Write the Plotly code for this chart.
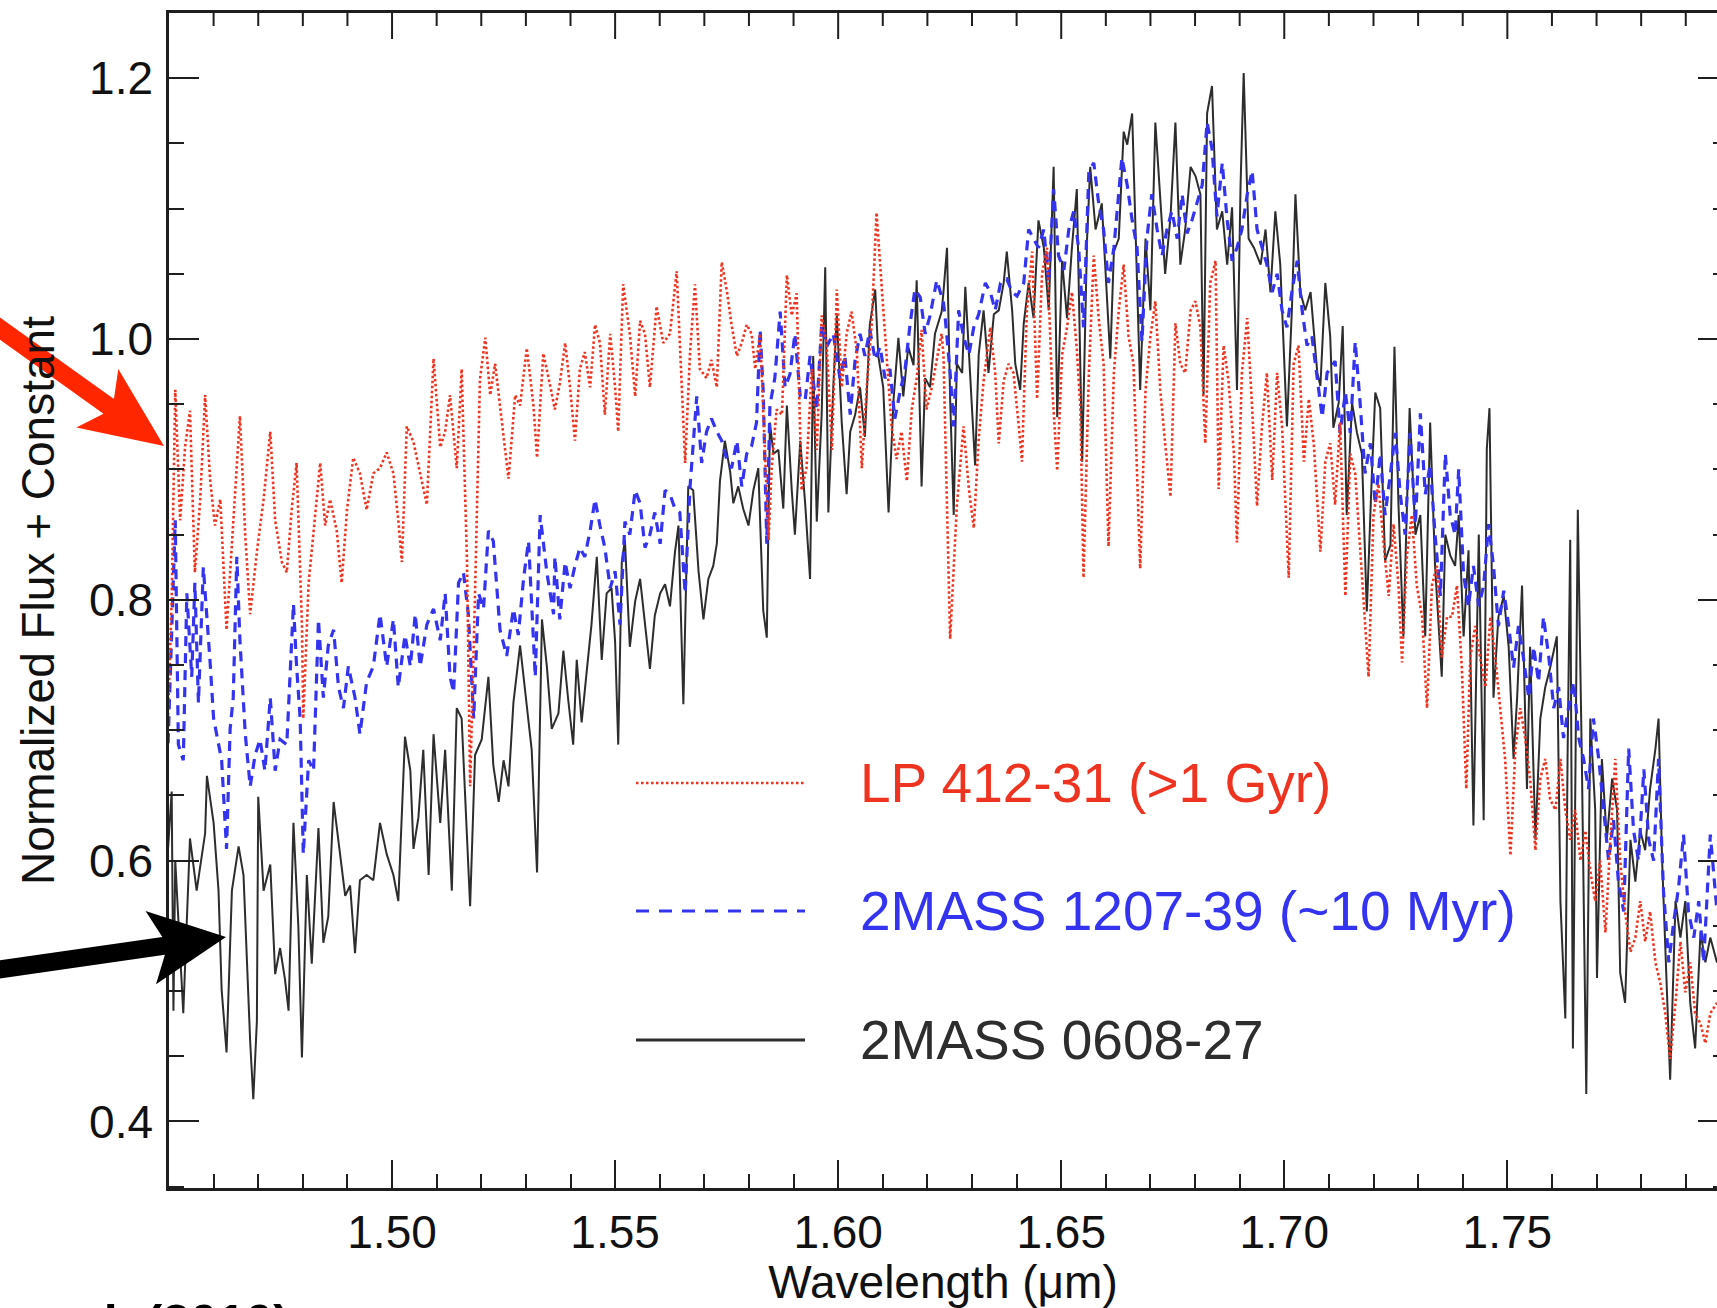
import plotly.graph_objects as go

# ---------------- data ----------------
black_wave = [
    1.4498, 1.4506, 1.4510, 1.4514, 1.4532, 1.4547, 1.4562, 1.4581, 1.4585, 1.4600,
    1.4611, 1.4618, 1.4629, 1.4641, 1.4656, 1.4667, 1.4682, 1.4689, 1.4697, 1.4700,
    1.4712, 1.4727, 1.4738, 1.4749, 1.4760, 1.4768, 1.4779, 1.4790, 1.4798, 1.4809,
    1.4820, 1.4835, 1.4846, 1.4857, 1.4869, 1.4884, 1.4895, 1.4906, 1.4917, 1.4928,
    1.4943, 1.4958, 1.4973, 1.4988, 1.5003, 1.5014, 1.5029, 1.5041, 1.5048, 1.5059,
    1.5070, 1.5082, 1.5093, 1.5108, 1.5119, 1.5134, 1.5145, 1.5156, 1.5175, 1.5186,
    1.5201, 1.5216, 1.5227, 1.5239, 1.5250, 1.5261, 1.5272, 1.5287, 1.5302, 1.5313,
    1.5325, 1.5336, 1.5347, 1.5358,
    1.5373, 1.5384, 1.5395, 1.5406, 1.5414, 1.5425, 1.5436, 1.5447, 1.5459, 1.5470,
    1.5481, 1.5492, 1.5500, 1.5507, 1.5515, 1.5522, 1.5533, 1.5545, 1.5556, 1.5567,
    1.5578, 1.5589, 1.5601, 1.5612, 1.5623, 1.5634, 1.5642, 1.5653, 1.5664, 1.5675,
    1.5687, 1.5698, 1.5709, 1.5720, 1.5728, 1.5735, 1.5746, 1.5758, 1.5765, 1.5776,
    1.5787, 1.5799, 1.5810, 1.5821, 1.5832, 1.5840, 1.5847, 1.5855, 1.5866, 1.5877,
    1.5885, 1.5896, 1.5903, 1.5915, 1.5926, 1.5937, 1.5944, 1.5952, 1.5963, 1.5971,
    1.5978, 1.5989, 1.5997, 1.6008, 1.6019, 1.6027, 1.6038, 1.6049, 1.6060, 1.6071,
    1.6083, 1.6090, 1.6101, 1.6113, 1.6124, 1.6135, 1.6146, 1.6157, 1.6169, 1.6176,
    1.6187, 1.6195, 1.6206, 1.6217, 1.6232,
    1.6236, 1.6244, 1.6251, 1.6259, 1.6266, 1.6278, 1.6285, 1.6296, 1.6307, 1.6315,
    1.6326, 1.6337, 1.6349, 1.6360, 1.6371, 1.6378, 1.6390, 1.6397, 1.6408, 1.6416,
    1.6427, 1.6438, 1.6449, 1.6461, 1.6472, 1.6483, 1.6491, 1.6502, 1.6513, 1.6524,
    1.6535, 1.6547, 1.6558, 1.6565, 1.6577, 1.6591, 1.6603, 1.6610, 1.6618, 1.6629,
    1.6640, 1.6648, 1.6659, 1.6670, 1.6677, 1.6689, 1.6700, 1.6711, 1.6722, 1.6733,
    1.6745, 1.6756, 1.6767, 1.6778, 1.6790, 1.6801, 1.6812, 1.6819, 1.6827, 1.6838,
    1.6849, 1.6861, 1.6872, 1.6883, 1.6894, 1.6902, 1.6909, 1.6920, 1.6932, 1.6947,
    1.6958, 1.6969, 1.6980, 1.6991, 1.7006, 1.7017, 1.7025, 1.7036, 1.7047, 1.7059,
    1.7074, 1.7081, 1.7092, 1.7103,
    1.7110, 1.7122, 1.7131, 1.7140, 1.7152, 1.7163, 1.7174, 1.7185, 1.7196, 1.7204,
    1.7215, 1.7226, 1.7238, 1.7247, 1.7256, 1.7267, 1.7281, 1.7294, 1.7305, 1.7316,
    1.7327, 1.7338, 1.7353, 1.7361, 1.7372, 1.7383, 1.7391, 1.7402, 1.7413, 1.7424,
    1.7436, 1.7447, 1.7454, 1.7460, 1.7469, 1.7480, 1.7492, 1.7503, 1.7514, 1.7522,
    1.7533, 1.7544, 1.7551, 1.7563, 1.7574, 1.7585, 1.7596, 1.7611, 1.7619, 1.7630,
    1.7635, 1.7641, 1.7647, 1.7658, 1.7667, 1.7677, 1.7686, 1.7697, 1.7701, 1.7712,
    1.7723, 1.7735, 1.7746, 1.7753, 1.7764, 1.7776, 1.7787, 1.7798, 1.7809, 1.7820,
    1.7832, 1.7839, 1.7847, 1.7858, 1.7865, 1.7877, 1.7888, 1.7899, 1.7910, 1.7921,
    1.7933, 1.7944, 1.7955, 1.7970,
]
black_flux = [
    0.610, 0.653, 0.485, 0.600, 0.483, 0.617, 0.577, 0.621, 0.665, 0.629,
    0.577, 0.501, 0.453, 0.577, 0.611, 0.589, 0.461, 0.417, 0.477, 0.649,
    0.577, 0.597, 0.513, 0.533, 0.509, 0.485, 0.629, 0.549, 0.449, 0.589,
    0.521, 0.625, 0.537, 0.557, 0.645, 0.601, 0.573, 0.581, 0.529, 0.585,
    0.589, 0.585, 0.629, 0.605, 0.589, 0.569, 0.695, 0.669, 0.609, 0.633,
    0.685, 0.589, 0.697, 0.629, 0.685, 0.577, 0.717, 0.709, 0.565, 0.681,
    0.693, 0.741, 0.673, 0.645, 0.677, 0.657, 0.721, 0.765, 0.721, 0.685,
    0.591, 0.785, 0.749, 0.701,
    0.713, 0.761, 0.723, 0.689, 0.754, 0.706, 0.744, 0.781, 0.833, 0.754,
    0.805, 0.809, 0.768, 0.689, 0.829, 0.846, 0.764, 0.799, 0.816, 0.781,
    0.747, 0.788, 0.805, 0.812, 0.795, 0.836, 0.857, 0.720, 0.887, 0.884,
    0.822, 0.785, 0.816, 0.826, 0.843, 0.891, 0.922, 0.898, 0.874, 0.887,
    0.870, 0.857, 0.884, 0.901, 0.792, 0.771, 0.936, 0.912, 0.915, 0.870,
    0.949, 0.884, 0.850, 0.922, 0.874, 0.816, 0.987, 0.860, 0.942, 1.055,
    0.867, 0.963, 1.018, 0.936, 0.881, 0.929, 0.942, 0.963, 0.925, 1.011,
    1.038, 0.987, 0.963, 0.867, 0.953, 1.001, 0.956, 0.994, 0.980, 1.045,
    0.887, 0.970, 0.963, 1.004, 1.021,
    1.036, 1.070, 0.954, 0.865, 0.981, 0.974, 1.040, 0.968, 0.903, 0.988,
    1.022, 0.974, 1.019, 1.022, 1.043, 1.067, 1.022, 0.981, 0.961, 1.012,
    1.043, 1.016, 1.091, 1.070, 1.022, 1.132, 0.940, 1.060, 1.016, 1.070,
    1.115, 0.906, 1.077, 1.132, 1.084, 1.104, 1.022, 0.985, 1.067, 1.077,
    1.159, 1.149, 1.173, 1.050, 0.961, 1.077, 1.022, 1.166, 1.111, 1.050,
    1.094, 1.166, 1.057, 1.084, 1.132, 1.125, 1.111, 0.957, 1.173, 1.194,
    1.084, 1.098, 1.057, 1.101, 0.961, 1.118, 1.204, 1.077, 1.070, 1.057,
    1.084, 1.036, 1.098, 1.057, 0.933, 1.022, 1.111, 1.036, 1.022, 1.036,
    0.974, 0.964, 1.043, 1.002,
    0.932, 0.951, 1.010, 0.865, 0.951, 0.928, 0.912, 0.791, 0.893, 0.959,
    0.947, 0.830, 0.842, 0.994, 0.873, 0.772, 0.947, 0.850, 0.865, 0.772,
    0.936, 0.826, 0.741, 0.850, 0.834, 0.826, 0.865, 0.772, 0.838, 0.627,
    0.850, 0.631, 0.916, 0.947, 0.725, 0.787, 0.803, 0.764, 0.678, 0.725,
    0.811, 0.655, 0.764, 0.616, 0.709, 0.733, 0.748, 0.772, 0.569, 0.479,
    0.678, 0.846, 0.456, 0.869, 0.678, 0.421, 0.709, 0.639, 0.510, 0.678,
    0.616, 0.663, 0.639, 0.514, 0.491, 0.616, 0.584, 0.623, 0.608, 0.655,
    0.686, 0.709, 0.600, 0.491, 0.432, 0.569, 0.541, 0.569, 0.491, 0.456,
    0.545, 0.522, 0.541, 0.522,
]

blue_wave = [
    1.4498, 1.4514, 1.4521, 1.4532, 1.4540, 1.4551, 1.4558, 1.4566, 1.4577, 1.4585,
    1.4592, 1.4600, 1.4607, 1.4618, 1.4629, 1.4637, 1.4644, 1.4652, 1.4659, 1.4671,
    1.4682, 1.4693, 1.4704, 1.4715, 1.4727, 1.4738, 1.4749, 1.4764, 1.4779, 1.4786,
    1.4794, 1.4801, 1.4813, 1.4824, 1.4835, 1.4846, 1.4857, 1.4869, 1.4880, 1.4891,
    1.4902, 1.4917, 1.4928, 1.4943, 1.4958, 1.4973, 1.4988, 1.5003, 1.5014, 1.5029,
    1.5041, 1.5052, 1.5063, 1.5078, 1.5093, 1.5108, 1.5119, 1.5130, 1.5138, 1.5149,
    1.5160, 1.5171, 1.5183, 1.5194, 1.5205, 1.5216, 1.5227, 1.5242, 1.5257, 1.5272,
    1.5283, 1.5295, 1.5306, 1.5321, 1.5332, 1.5347, 1.5362,
    1.5365, 1.5376, 1.5388, 1.5399, 1.5410, 1.5421, 1.5432, 1.5444, 1.5455, 1.5466,
    1.5477, 1.5489, 1.5500, 1.5511, 1.5522, 1.5533, 1.5545, 1.5556, 1.5567, 1.5578,
    1.5589, 1.5601, 1.5612, 1.5623, 1.5634, 1.5645, 1.5657, 1.5668, 1.5675, 1.5683,
    1.5694, 1.5705, 1.5716, 1.5728, 1.5739, 1.5750, 1.5761, 1.5773, 1.5784, 1.5795,
    1.5806, 1.5817, 1.5825, 1.5832, 1.5840, 1.5847, 1.5858, 1.5870, 1.5881, 1.5892,
    1.5903, 1.5915, 1.5926, 1.5937, 1.5952, 1.5963, 1.5974, 1.5989, 1.6004, 1.6015,
    1.6027, 1.6038, 1.6049, 1.6060, 1.6071, 1.6083, 1.6094, 1.6105, 1.6116, 1.6127,
    1.6139, 1.6150, 1.6161, 1.6172, 1.6184, 1.6195, 1.6206, 1.6221, 1.6236,
    1.6240, 1.6251, 1.6259, 1.6270, 1.6281, 1.6293, 1.6304, 1.6315, 1.6330, 1.6341,
    1.6352, 1.6364, 1.6378, 1.6390, 1.6401, 1.6416, 1.6427, 1.6438, 1.6449, 1.6461,
    1.6472, 1.6483, 1.6494, 1.6506, 1.6517, 1.6528, 1.6539, 1.6550, 1.6562, 1.6573,
    1.6584, 1.6595, 1.6606, 1.6618, 1.6629, 1.6636, 1.6648, 1.6659, 1.6670, 1.6681,
    1.6692, 1.6703, 1.6715, 1.6726, 1.6737, 1.6748, 1.6760, 1.6771, 1.6782, 1.6793,
    1.6804, 1.6816, 1.6827, 1.6838, 1.6849, 1.6861, 1.6872, 1.6883, 1.6894, 1.6905,
    1.6917, 1.6928, 1.6939, 1.6950, 1.6961, 1.6973, 1.6984, 1.6995, 1.7006, 1.7017,
    1.7029, 1.7040, 1.7051, 1.7062, 1.7074, 1.7085, 1.7096,
    1.7114, 1.7125, 1.7137, 1.7148, 1.7159, 1.7170, 1.7181, 1.7193, 1.7204, 1.7215,
    1.7226, 1.7238, 1.7249, 1.7260, 1.7271, 1.7282, 1.7294, 1.7305, 1.7316, 1.7327,
    1.7338, 1.7350, 1.7361, 1.7372, 1.7383, 1.7391, 1.7402, 1.7413, 1.7424, 1.7436,
    1.7447, 1.7458, 1.7469, 1.7480, 1.7492, 1.7503, 1.7514, 1.7525, 1.7536, 1.7548,
    1.7559, 1.7570, 1.7581, 1.7593, 1.7604, 1.7615, 1.7626, 1.7637, 1.7649, 1.7660,
    1.7671, 1.7682, 1.7693, 1.7705, 1.7716, 1.7727, 1.7738, 1.7749, 1.7761, 1.7772,
    1.7783, 1.7794, 1.7806, 1.7817, 1.7828, 1.7839, 1.7850, 1.7862, 1.7873, 1.7884,
    1.7895, 1.7906, 1.7918, 1.7929, 1.7940, 1.7955, 1.7970,
]
blue_flux = [
    0.690, 0.861, 0.689, 0.677, 0.805, 0.741, 0.813, 0.721, 0.825, 0.789,
    0.753, 0.709, 0.697, 0.677, 0.609, 0.701, 0.725, 0.833, 0.769, 0.697,
    0.657, 0.681, 0.693, 0.669, 0.725, 0.669, 0.693, 0.689, 0.797, 0.749,
    0.709, 0.605, 0.677, 0.669, 0.785, 0.725, 0.765, 0.777, 0.733, 0.717,
    0.749, 0.725, 0.697, 0.737, 0.749, 0.789, 0.749, 0.785, 0.733, 0.773,
    0.749, 0.789, 0.749, 0.781, 0.793, 0.769, 0.805, 0.741, 0.729, 0.813,
    0.821, 0.789, 0.709, 0.805, 0.793, 0.853, 0.845, 0.777, 0.757, 0.793,
    0.773, 0.817, 0.845, 0.741, 0.865, 0.821, 0.789,
    0.833, 0.785, 0.829, 0.809, 0.826, 0.840, 0.833, 0.853, 0.877, 0.857,
    0.840, 0.809, 0.822, 0.781, 0.860, 0.850, 0.884, 0.874, 0.840, 0.850,
    0.867, 0.843, 0.884, 0.881, 0.870, 0.867, 0.805, 0.887, 0.922, 0.956,
    0.905, 0.929, 0.939, 0.929, 0.922, 0.908, 0.901, 0.922, 0.887, 0.912,
    0.918, 0.936, 1.007, 0.960, 0.843, 0.949, 0.970, 1.021, 0.963, 0.973,
    1.004, 0.956, 0.953, 0.987, 0.946, 1.011, 0.994, 1.004, 0.970, 0.987,
    0.942, 0.984, 1.004, 0.987, 1.007, 0.984, 0.994, 0.970, 0.977, 0.939,
    0.960, 0.977, 1.011, 1.038, 1.032, 1.004, 1.018, 1.045, 1.028,
    1.016, 0.974, 0.933, 1.022, 1.002, 0.988, 1.009, 1.019, 1.043, 1.036,
    1.022, 1.043, 1.046, 1.036, 1.033, 1.043, 1.084, 1.077, 1.070, 1.084,
    1.043, 1.115, 1.064, 1.053, 1.084, 1.098, 1.070, 1.009, 1.129, 1.135,
    1.104, 1.084, 1.043, 1.070, 1.111, 1.139, 1.118, 1.091, 1.070, 0.998,
    1.077, 1.111, 1.084, 1.064, 1.084, 1.098, 1.077, 1.111, 1.081, 1.091,
    1.104, 1.118, 1.166, 1.146, 1.094, 1.135, 1.091, 1.060, 1.070, 1.084,
    1.111, 1.129, 1.084, 1.070, 1.057, 1.036, 1.050, 1.022, 1.009, 1.036,
    1.060, 1.022, 0.995, 1.002, 0.968, 0.940, 0.974,
    0.983, 0.928, 0.959, 0.928, 0.998, 0.951, 0.897, 0.920, 0.873, 0.912,
    0.865, 0.897, 0.928, 0.881, 0.850, 0.928, 0.858, 0.943, 0.881, 0.904,
    0.850, 0.803, 0.912, 0.865, 0.850, 0.900, 0.819, 0.795, 0.826, 0.795,
    0.811, 0.858, 0.826, 0.780, 0.807, 0.780, 0.748, 0.780, 0.756, 0.725,
    0.764, 0.737, 0.787, 0.756, 0.717, 0.733, 0.694, 0.717, 0.737, 0.694,
    0.678, 0.655, 0.709, 0.678, 0.639, 0.600, 0.631, 0.584, 0.561, 0.686,
    0.623, 0.600, 0.670, 0.616, 0.600, 0.678, 0.577, 0.522, 0.553, 0.580,
    0.620, 0.561, 0.541, 0.569, 0.522, 0.620, 0.561,
]

red_wave = [
    1.4497, 1.4506, 1.4514, 1.4525, 1.4536, 1.4547, 1.4558, 1.4570, 1.4581, 1.4592,
    1.4603, 1.4615, 1.4629, 1.4644, 1.4659, 1.4671, 1.4682, 1.4697, 1.4712, 1.4727,
    1.4738, 1.4753, 1.4764, 1.4775, 1.4786, 1.4798, 1.4801, 1.4813, 1.4824, 1.4839,
    1.4850, 1.4861, 1.4876, 1.4887, 1.4899, 1.4913, 1.4928, 1.4943, 1.4958, 1.4973,
    1.4988, 1.5003, 1.5014, 1.5022, 1.5033, 1.5048, 1.5063, 1.5078, 1.5093, 1.5108,
    1.5119, 1.5130, 1.5145, 1.5156, 1.5168, 1.5175, 1.5186, 1.5197, 1.5209, 1.5220,
    1.5231, 1.5246, 1.5261, 1.5276, 1.5287, 1.5302, 1.5317, 1.5325, 1.5339, 1.5354,
    1.5365, 1.5376, 1.5388, 1.5399, 1.5410, 1.5421, 1.5432, 1.5444, 1.5455, 1.5466,
    1.5477, 1.5489, 1.5500, 1.5507, 1.5518, 1.5533, 1.5545, 1.5556, 1.5567, 1.5578,
    1.5593, 1.5608, 1.5623, 1.5638, 1.5649, 1.5657, 1.5668, 1.5679, 1.5690, 1.5705,
    1.5716, 1.5728, 1.5739, 1.5750, 1.5761, 1.5773, 1.5784, 1.5795, 1.5806, 1.5814,
    1.5825, 1.5836, 1.5844, 1.5851, 1.5862, 1.5874, 1.5885, 1.5896, 1.5907, 1.5918,
    1.5929, 1.5941, 1.5952, 1.5963, 1.5974, 1.5986, 1.5997, 1.6008, 1.6019, 1.6030,
    1.6042, 1.6053, 1.6064, 1.6075, 1.6086, 1.6098, 1.6109, 1.6120, 1.6131, 1.6142,
    1.6154, 1.6165, 1.6176, 1.6187, 1.6198, 1.6210, 1.6221, 1.6232,
    1.6236, 1.6251, 1.6266, 1.6281, 1.6293, 1.6304, 1.6315, 1.6326, 1.6341, 1.6352,
    1.6360, 1.6371, 1.6382, 1.6393, 1.6405, 1.6412, 1.6423, 1.6435, 1.6446, 1.6457,
    1.6468, 1.6479, 1.6491, 1.6502, 1.6513, 1.6524, 1.6535, 1.6543, 1.6550, 1.6562,
    1.6573, 1.6584, 1.6595, 1.6606, 1.6618, 1.6629, 1.6640, 1.6651, 1.6662, 1.6677,
    1.6689, 1.6700, 1.6711, 1.6722, 1.6733, 1.6745, 1.6756, 1.6767, 1.6778, 1.6790,
    1.6801, 1.6812, 1.6823, 1.6834, 1.6846, 1.6853, 1.6864, 1.6875, 1.6887, 1.6894,
    1.6905, 1.6917, 1.6928, 1.6939, 1.6950, 1.6961, 1.6973, 1.6984, 1.6995, 1.7010,
    1.7021, 1.7032, 1.7044, 1.7055, 1.7066, 1.7081, 1.7092, 1.7103,
    1.7114, 1.7125, 1.7137, 1.7148, 1.7159, 1.7170, 1.7181, 1.7189, 1.7200, 1.7211,
    1.7223, 1.7234, 1.7245, 1.7256, 1.7264, 1.7275, 1.7286, 1.7297, 1.7309, 1.7320,
    1.7331, 1.7342, 1.7353, 1.7365, 1.7376, 1.7387, 1.7398, 1.7408, 1.7417, 1.7428,
    1.7439, 1.7451, 1.7462, 1.7473, 1.7484, 1.7495, 1.7507, 1.7518, 1.7529, 1.7540,
    1.7551, 1.7563, 1.7574, 1.7585, 1.7596, 1.7608, 1.7619, 1.7630, 1.7641, 1.7652,
    1.7664, 1.7675, 1.7686, 1.7697, 1.7708, 1.7720, 1.7731, 1.7742, 1.7753, 1.7764,
    1.7776, 1.7787, 1.7798, 1.7809, 1.7820, 1.7832, 1.7843, 1.7854, 1.7865, 1.7877,
    1.7888, 1.7899, 1.7910, 1.7921, 1.7933, 1.7944, 1.7955, 1.7970,
]
red_flux = [
    0.700, 0.800, 0.961, 0.861, 0.917, 0.945, 0.821, 0.877, 0.957, 0.893,
    0.857, 0.877, 0.777, 0.861, 0.941, 0.849, 0.789, 0.837, 0.877, 0.929,
    0.861, 0.829, 0.821, 0.869, 0.905, 0.781, 0.709, 0.813, 0.853, 0.905,
    0.857, 0.877, 0.853, 0.813, 0.869, 0.909, 0.897, 0.869, 0.897, 0.901,
    0.913, 0.897, 0.861, 0.829, 0.933, 0.921, 0.897, 0.873, 0.985, 0.917,
    0.929, 0.957, 0.901, 0.977, 0.829, 0.657, 0.805, 0.969, 1.001, 0.957,
    0.981, 0.937, 0.893, 0.957, 0.949, 0.993, 0.949, 0.909, 0.989, 0.965,
    0.946, 0.966, 0.997, 0.963, 0.922, 0.977, 0.990, 0.963, 1.011, 0.997,
    0.942, 1.004, 0.963, 0.929, 1.042, 1.004, 0.956, 1.014, 1.004, 0.963,
    1.025, 0.997, 1.004, 1.052, 0.963, 0.905, 0.990, 1.042, 0.977, 0.970,
    0.984, 0.963, 1.059, 1.038, 1.011, 0.987, 0.997, 1.011, 1.004, 0.977,
    1.004, 0.915, 0.846, 0.901, 0.946, 0.942, 1.049, 1.018, 1.035, 0.884,
    0.901, 0.977, 0.915, 1.018, 0.997, 0.915, 1.038, 0.963, 1.004, 1.021,
    0.990, 0.901, 0.963, 1.011, 1.097, 1.038, 0.987, 0.932, 0.908, 0.929,
    0.891, 0.946, 0.970, 1.007, 0.946, 0.963, 0.984, 1.004,
    0.988, 0.770, 0.872, 0.933, 0.885, 0.855, 0.923, 0.968, 1.009, 0.974,
    0.920, 0.968, 0.981, 0.974, 0.933, 0.906, 1.022, 1.067, 0.954, 1.050,
    1.070, 0.968, 0.899, 0.988, 1.009, 1.036, 0.992, 0.947, 0.817, 0.974,
    1.064, 1.016, 0.981, 0.841, 0.974, 1.022, 1.057, 1.002, 0.981, 0.824,
    0.961, 1.002, 1.029, 0.961, 0.920, 0.879, 1.012, 0.981, 0.974, 1.022,
    1.029, 1.009, 0.920, 1.043, 1.060, 0.885, 0.995, 0.968, 0.913, 0.844,
    0.974, 1.016, 0.947, 0.872, 0.933, 0.974, 0.892, 0.974, 0.933, 0.817,
    0.981, 0.995, 0.906, 0.954, 0.920, 0.837, 0.906, 0.920,
    0.873, 0.936, 0.803, 0.912, 0.897, 0.842, 0.787, 0.741, 0.865, 0.889,
    0.842, 0.803, 0.858, 0.811, 0.752, 0.834, 0.865, 0.811, 0.787, 0.717,
    0.811, 0.826, 0.756, 0.787, 0.787, 0.811, 0.748, 0.655, 0.756, 0.780,
    0.756, 0.733, 0.787, 0.756, 0.717, 0.678, 0.604, 0.686, 0.717, 0.694,
    0.663, 0.608, 0.663, 0.678, 0.647, 0.639, 0.678, 0.639, 0.616, 0.639,
    0.600, 0.623, 0.592, 0.569, 0.600, 0.545, 0.616, 0.678, 0.600, 0.561,
    0.530, 0.541, 0.569, 0.538, 0.561, 0.522, 0.506, 0.483, 0.448, 0.491,
    0.538, 0.499, 0.522, 0.483, 0.475, 0.460, 0.483, 0.491,
]

series_names = ["LP 412-31 (>1 Gyr)", "2MASS 1207-39 (~10 Myr)", "2MASS 0608-27"]
x_tick_vals = [1.50, 1.55, 1.60, 1.65, 1.70, 1.75]
x_tick_text = ["1.50", "1.55", "1.60", "1.65", "1.70", "1.75"]
y_tick_vals = [0.4, 0.6, 0.8, 1.0, 1.2]
y_tick_text = ["0.4", "0.6", "0.8", "1.0", "1.2"]

# ---------------- styling ----------------
FONT = "Liberation Sans, Arial, Helvetica, sans-serif"
RED = "rgb(238,52,32)"
BLUE = "rgb(52,52,240)"
BLACK = "rgb(45,45,45)"
AXC = "#1e1e1e"
X_RANGE = [1.45, 1.797]
Y_RANGE = [0.349, 1.25]

W, H = 1717, 1308
ML, MR, MT, MB = 169, 0, 13, 120
PW, PH = W - ML - MR, H - MT - MB


def px_x(px):
    return (px - ML) / PW


def px_y(py):
    return (H - MB - py) / PH


fig = go.Figure()
fig.add_trace(go.Scatter(x=black_wave, y=black_flux, mode="lines", name=series_names[2],
                         line=dict(color=BLACK, width=2.0), hoverinfo="skip"))
fig.add_trace(go.Scatter(x=blue_wave, y=blue_flux, mode="lines", name=series_names[1],
                         line=dict(color=BLUE, width=3.2, dash="10px,7px"), hoverinfo="skip"))
fig.add_trace(go.Scatter(x=red_wave, y=red_flux, mode="lines", name=series_names[0],
                         line=dict(color=RED, width=2.6, dash="2.5px,2.5px"), hoverinfo="skip"))
# helper trace so the right-hand tick-only axis is drawn
fig.add_trace(go.Scatter(x=[None], y=[None], yaxis="y2", showlegend=False, hoverinfo="skip"))

axis_common = dict(showgrid=False, zeroline=False, tickcolor=AXC, tickwidth=2,
                   tickfont=dict(family=FONT, size=46, color="#111"))

fig.update_layout(
    width=W, height=H,
    margin=dict(l=ML, r=MR, t=MT, b=MB, pad=0),
    paper_bgcolor="white", plot_bgcolor="white",
    showlegend=False,
    font=dict(family=FONT, color="#111"),
    xaxis=dict(
        range=X_RANGE, tickmode="array", tickvals=x_tick_vals, ticktext=x_tick_text,
        ticks="inside", ticklen=28, showline=True, linecolor=AXC, linewidth=2.5,
        mirror=True, ticklabelstandoff=2,
        minor=dict(tickmode="linear", tick0=1.45, dtick=0.01, ticks="inside", ticklen=14,
                   tickwidth=2, tickcolor=AXC, showgrid=False),
        title=dict(text="Wavelength (μm)", font=dict(family=FONT, size=46, color="#111"),
                   standoff=18),
        **axis_common,
    ),
    yaxis=dict(
        range=Y_RANGE, tickmode="array", tickvals=y_tick_vals, ticktext=y_tick_text,
        ticks="inside", ticklen=30, showline=True, linecolor=AXC, linewidth=2.5,
        mirror=False, ticklabelstandoff=4,
        minor=dict(tickmode="linear", tick0=0.35, dtick=0.05, ticks="inside", ticklen=15,
                   tickwidth=2, tickcolor=AXC, showgrid=False),
        title=dict(text="Normalized Flux + Constant",
                   font=dict(family=FONT, size=46, color="#111"), standoff=20),
        **axis_common,
    ),
    yaxis2=dict(
        range=Y_RANGE, overlaying="y", side="right", anchor="x",
        tickmode="array", tickvals=y_tick_vals, ticks="inside", ticklen=19,
        showticklabels=False, showline=False,
        minor=dict(tickmode="linear", tick0=0.35, dtick=0.05, ticks="inside", ticklen=4,
                   tickwidth=2, tickcolor=AXC, showgrid=False),
        **axis_common,
    ),
)

# ---------------- top-edge tick marks (mirror of the x axis) ----------------
top_minor = [round(1.45 + 0.01 * i, 2) for i in range(1, 35)]
for v in top_minor:
    is_major = any(abs(v - m) < 1e-6 for m in x_tick_vals)
    tl = 26 if is_major else 13
    fig.add_shape(type="line", xref="x", yref="paper", x0=v, x1=v,
                  y0=1.0, y1=1.0 - tl / PH, line=dict(color=AXC, width=2), layer="above")

# ---------------- manual legend ----------------
legend_y = [783, 911, 1040]
legend_colors = [RED, BLUE, BLACK]
legend_dash = ["2.5px,2.5px", "13px,10px", "solid"]
legend_width = [2.4, 2.8, 3.0]
for name, yy, col, dsh, lw in zip(series_names, legend_y, legend_colors, legend_dash, legend_width):
    fig.add_shape(type="line", xref="paper", yref="paper",
                  x0=px_x(636), x1=px_x(805), y0=px_y(yy), y1=px_y(yy),
                  line=dict(color=col, width=lw, dash=dsh))
    fig.add_annotation(text=name, xref="paper", yref="paper", x=px_x(858), y=px_y(yy),
                       xanchor="left", yanchor="middle", showarrow=False,
                       font=dict(family=FONT, size=55, color=col))


# ---------------- arrows (decorations) ----------------
def arrow_path(tail, tip, shaft_hw, head_len, head_hw, notch):
    import math
    dx, dy = tip[0] - tail[0], tip[1] - tail[1]
    L = math.hypot(dx, dy)
    ux, uy = dx / L, dy / L
    nx, ny = -uy, ux
    bx, by = tip[0] - head_len * ux, tip[1] - head_len * uy
    kx, ky = tip[0] - (head_len - notch) * ux, tip[1] - (head_len - notch) * uy
    pts = [
        (tail[0] + shaft_hw * nx, tail[1] + shaft_hw * ny),
        (kx + shaft_hw * nx, ky + shaft_hw * ny),
        (bx + head_hw * nx, by + head_hw * ny),
        tip,
        (bx - head_hw * nx, by - head_hw * ny),
        (kx - shaft_hw * nx, ky - shaft_hw * ny),
        (tail[0] - shaft_hw * nx, tail[1] - shaft_hw * ny),
    ]
    return "M " + " L ".join(f"{px_x(p[0]):.5f},{px_y(p[1]):.5f}" for p in pts) + " Z"


fig.add_shape(type="path", xref="paper", yref="paper",
              path=arrow_path((-12, 320), (164, 446), 9, 82, 36, 14),
              fillcolor="rgb(255,38,0)", line=dict(width=0), layer="above")
fig.add_shape(type="path", xref="paper", yref="paper",
              path=arrow_path((-12, 971), (226, 937), 9, 76, 37, 13),
              fillcolor="black", line=dict(width=0), layer="above")

# partially visible citation at the bottom edge
fig.add_annotation(text="<b>al. (2010)</b>", xref="paper", yref="paper",
                   x=px_x(292), y=px_y(1293), xanchor="right", yanchor="top",
                   showarrow=False, font=dict(family=FONT, size=50, color="black"))

fig.write_html("out.html")
